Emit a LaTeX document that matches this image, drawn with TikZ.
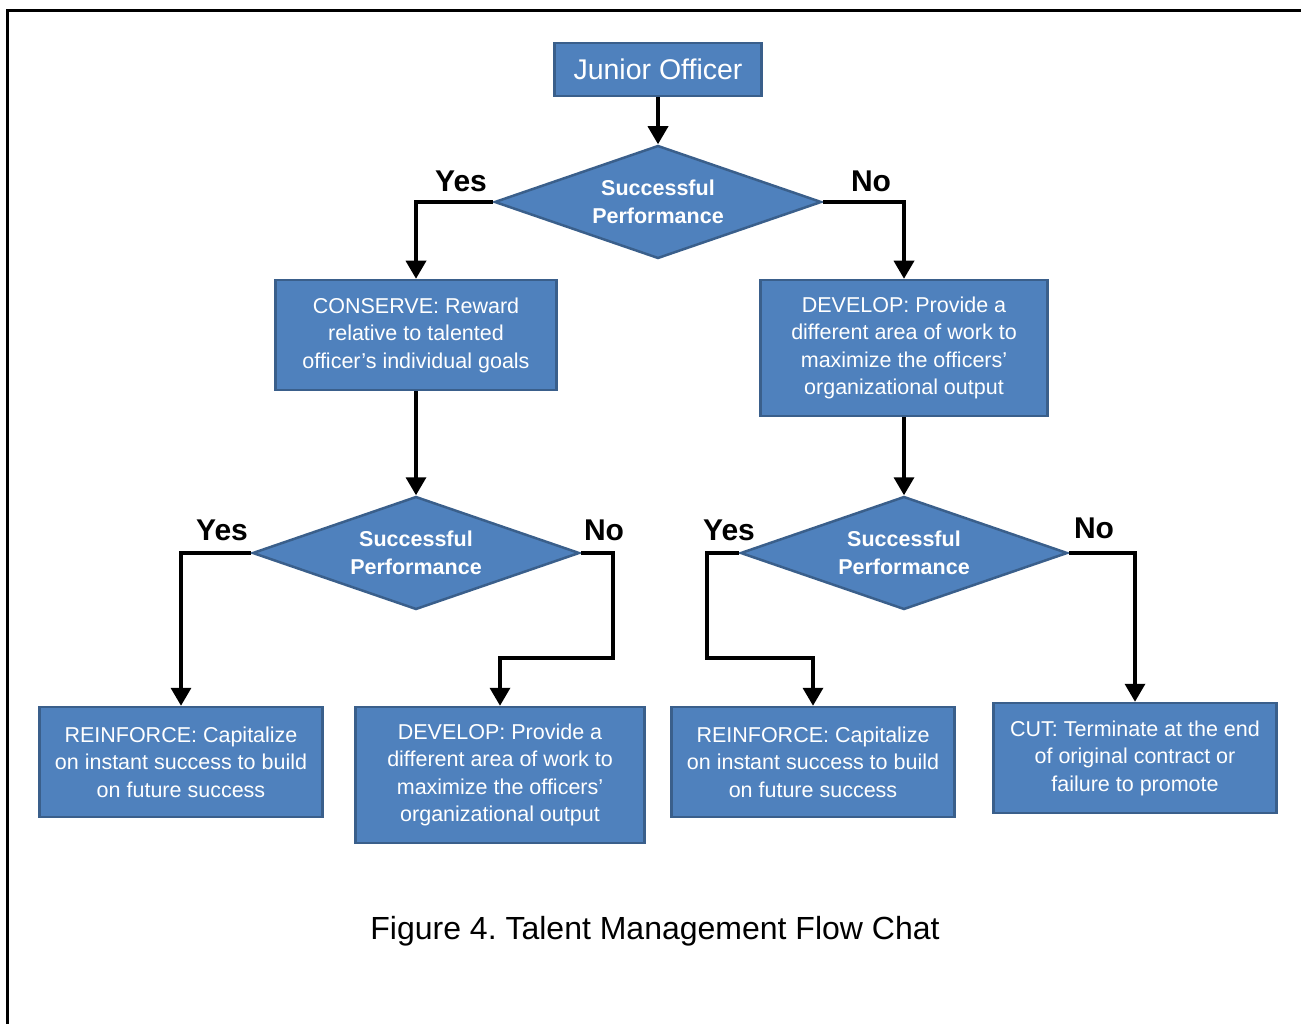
\documentclass[tikz,border=0pt]{standalone}
\usepackage{fontspec}
\setmainfont{Liberation Sans}
\usetikzlibrary{shapes.geometric,arrows.meta,calc}
\definecolor{boxfill}{HTML}{4F81BD}
\definecolor{boxline}{HTML}{3A5F8B}
\frenchspacing
\begin{document}
\begin{tikzpicture}[x=1pt,y=-1pt,
  box/.style={draw=boxline,line width=2.5pt,fill=boxfill,text=white,align=center,inner sep=0pt,
    font=\fontsize{21.5}{27.5}\selectfont},
  dec/.style={diamond,aspect=2.9,draw=boxline,line width=2.5pt,fill=boxfill,text=white,align=center,inner sep=0pt,
    minimum width=327pt,minimum height=113pt,font=\fontsize{21.5}{27.5}\selectfont\bfseries},
  lbl/.style={font=\fontsize{30}{32}\selectfont\bfseries,inner sep=0pt},
  arr/.style={line width=3.5pt,-{Triangle[length=18pt,width=20pt]}}]
\useasboundingbox (0,0) rectangle (1301,1024);
\draw[line width=3pt] (7,1024) -- (7,11) -- (1301,11);

\node[box,minimum width=207pt,minimum height=53pt,font=\fontsize{28.5}{30}\selectfont] (jo) at (658,69.5) {Junior Officer};
\node[dec] (d1) at (658,202) {Successful\\Performance};
\node[box,minimum width=281pt,minimum height=110pt] (cons) at (416,335) {CONSERVE: Reward\\relative to talented\\officer’s individual goals};
\node[box,minimum width=287pt,minimum height=136pt] (dev1) at (904,348) {DEVELOP: Provide a\\different area of work to\\maximize the officers’\\organizational output};
\node[dec] (d2) at (416,553) {Successful\\Performance};
\node[dec] (d3) at (904,553) {Successful\\Performance};
\node[box,minimum width=283pt,minimum height=110pt] (r1) at (181,762) {REINFORCE: Capitalize\\on instant success to build\\on future success};
\node[box,minimum width=289pt,minimum height=136pt] (dev2) at (500,775) {DEVELOP: Provide a\\different area of work to\\maximize the officers’\\organizational output};
\node[box,minimum width=283pt,minimum height=110pt] (r2) at (813,762) {REINFORCE: Capitalize\\on instant success to build\\on future success};
\node[box,minimum width=283pt,minimum height=110pt] (cut) at (1135,758) {CUT: Terminate at the end\\of original contract or\\failure to promote};

\node[lbl] (y1) at (461,181) {Yes};
\node[lbl] (n1) at (871,181) {No};
\node[lbl] (y2) at (222,530) {Yes};
\node[lbl] (n2) at (604,530) {No};
\node[lbl] (y3) at (729,530) {Yes};
\node[lbl] (n3) at (1094,528) {No};

\coordinate (k1) at (613,658);
\coordinate (k2) at (707,658);

\draw[arr] (jo.south) -- (d1.north);
\draw[arr] (d1.west) -| (cons.north);
\draw[arr] (d1.east) -| (dev1.north);
\draw[arr] (cons.south) -- (d2.north);
\draw[arr] (dev1.south) -- (d3.north);
\draw[arr] (d2.west) -| (r1.north);
\draw[arr] (d2.east) -| (k1) -| (dev2.north);
\draw[arr] (d3.west) -| (k2) -| (r2.north);
\draw[arr] (d3.east) -| (cut.north);

\node[font=\fontsize{32}{34}\selectfont,inner sep=0pt] (cap) at (655,931) {Figure 4. Talent Management Flow Chat};
\end{tikzpicture}
\end{document}
